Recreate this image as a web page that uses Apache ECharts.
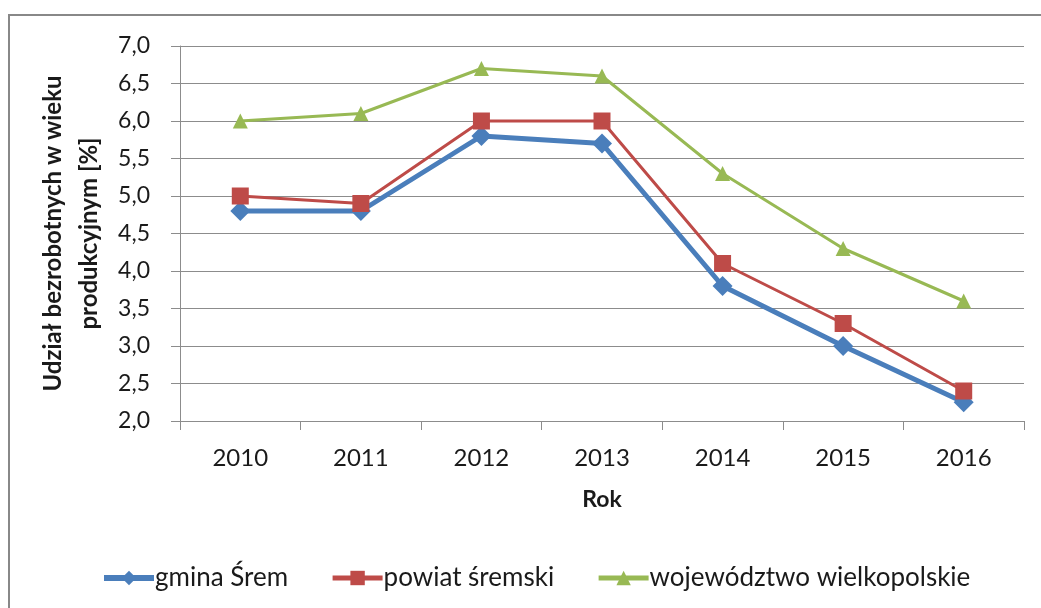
<!DOCTYPE html>
<html>
<head>
<meta charset="utf-8">
<script src="https://cdn.jsdelivr.net/npm/echarts@6/dist/echarts.min.js"></script>
<style>
html,body{margin:0;padding:0;background:#fff;}
#chart{width:1041px;height:608px;}
</style>
</head>
<body>
<div id="chart"></div>
<script>
const categories = ['2010','2011','2012','2013','2014','2015','2016'];
const gminaSrem = [4.8, 4.8, 5.8, 5.7, 3.8, 3.0, 2.25];
const powiatSremski = [5.0, 4.9, 6.0, 6.0, 4.1, 3.3, 2.4];
const wojewodztwo = [6.0, 6.1, 6.7, 6.6, 5.3, 4.3, 3.6];
const seriesNames = ['gmina Śrem', 'powiat śremski', 'województwo wielkopolskie'];
const yAxisTitle = 'Udział bezrobotnych w wieku\nprodukcyjnym [%]';
const xAxisTitle = 'Rok';

const FONT = 'Lato';
const chart = echarts.init(document.getElementById('chart'), null, {renderer: 'canvas'});
const gridColor = '#8c8c8c';
const colors = ['#4a7ebb', '#be4b48', '#98b954'];

chart.setOption({
  animation: false,
  backgroundColor: '#fff',
  textStyle: {fontFamily: FONT, color: '#1a1a1a'},
  graphic: [{
    type: 'rect',
    shape: {x: 9, y: 15, width: 1100, height: 700},
    style: {fill: 'none', stroke: '#888', lineWidth: 2},
    silent: true
  }],
  grid: {left: 180, right: 17, top: 46, bottom: 187},
  legend: {
    left: 96,
    top: 560,
    itemWidth: 50,
    itemHeight: 18,
    itemGap: 42,
    textStyle: {fontFamily: FONT, fontSize: 26, color: '#1a1a1a', padding: [0,0,0,-4]},
    data: [
      {name: seriesNames[0], lineStyle: {width: 6, color: colors[0]}},
      {name: seriesNames[1], lineStyle: {width: 5, color: colors[1]}},
      {name: seriesNames[2], lineStyle: {width: 5, color: colors[2]}}
    ]
  },
  xAxis: {
    type: 'category',
    data: categories,
    boundaryGap: true,
    name: xAxisTitle,
    nameLocation: 'middle',
    nameGap: 67,
    nameTextStyle: {fontFamily: FONT, fontWeight: 'bold', fontSize: 23, color: '#1a1a1a'},
    axisLine: {lineStyle: {color: gridColor, width: 1}},
    axisTick: {show: true, length: 9, inside: false, lineStyle: {color: gridColor}},
    axisLabel: {fontFamily: FONT, fontSize: 24, color: '#1a1a1a', margin: 25}
  },
  yAxis: {
    type: 'value',
    min: 2,
    max: 7,
    interval: 0.5,
    name: yAxisTitle,
    nameLocation: 'middle',
    nameRotate: 90,
    nameGap: 54,
    nameTextStyle: {fontFamily: FONT, fontWeight: 'bold', fontSize: 24, color: '#1a1a1a', lineHeight: 36, align: 'center'},
    axisLine: {show: true, lineStyle: {color: gridColor, width: 1}},
    axisTick: {show: true, length: 9, lineStyle: {color: gridColor}},
    splitLine: {show: true, lineStyle: {color: gridColor, width: 1}},
    axisLabel: {
      fontFamily: FONT, fontSize: 23, color: '#1a1a1a', margin: 30,
      formatter: v => v.toFixed(1).replace('.', ',')
    }
  },
  series: [
    {
      name: seriesNames[0], type: 'line', data: gminaSrem,
      symbol: 'diamond', symbolSize: 20,
      itemStyle: {color: colors[0]},
      lineStyle: {color: colors[0], width: 5},
      z: 3
    },
    {
      name: seriesNames[1], type: 'line', data: powiatSremski,
      symbol: 'rect', symbolSize: 17,
      itemStyle: {color: colors[1]},
      lineStyle: {color: colors[1], width: 3},
      z: 4
    },
    {
      name: seriesNames[2], type: 'line', data: wojewodztwo,
      symbol: 'triangle', symbolSize: 15,
      itemStyle: {color: colors[2]},
      lineStyle: {color: colors[2], width: 3},
      z: 5
    }
  ]
});
</script>
</body>
</html>
